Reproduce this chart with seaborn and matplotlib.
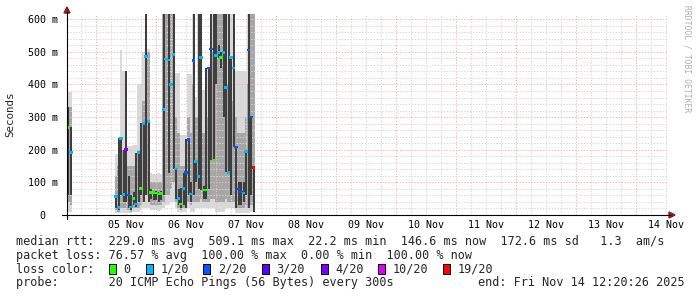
import numpy as np
import pandas as pd
import matplotlib
matplotlib.use("Agg")
import matplotlib.pyplot as plt
from matplotlib.patches import Rectangle, Polygon
from matplotlib.lines import Line2D
import seaborn as sns

sns.set_style("white")
plt.rcParams["font.family"] = ["DejaVu Sans Mono"]

# ---------------- data (hours relative to 05 Nov 00:00, values in ms) ----------------
first_hours = [-11.66, -10.66]
main_start_hour = 7.5
hours = np.concatenate([first_hours, main_start_hour + np.arange(56)])

median_ms = [268, 191,
             56, 22, 235, 63, 201, 61, 25, 51, 34, 191, 82, 281, 486, 286,
             68, 68, 67, 64, 66, 324, 478, 475, 399, 491, 141, 51, 34, 82,
             130, 232, 64, 473, 164, 118, 482, 77, 77, 450, 509, 169, 488, 498,
             482, 499, 391, 131, 482, 450, 208, 80, 70, 67, 194, 506, 300, 146]

loss = ["0", "1/20",
        "1/20", "1/20", "1/20", "1/20", "4/20", "2/20", "1/20", "0", "1/20", "1/20", "0", "1/20", "1/20", "1/20",
        "0", "0", "0", "0", "0", "1/20", "1/20", "1/20", "1/20", "1/20", "1/20", "1/20", "0", "1/20",
        "2/20", "2/20", "1/20", "2/20", "1/20", "1/20", "1/20", "0", "0", "2/20", "2/20", "0", "1/20", "1/20",
        "0", "1/20", "1/20", "1/20", "1/20", "1/20", "2/20", "2/20", "2/20", "1/20", "1/20", "2/20", "2/20", "19/20"]

smoke_lo = [10, 10,
            5, 5, 5, 5, 5, 5, 5, 10, 10, 10, 15, 20, 20, 20,
            15, 15, 15, 12, 15, 20, 30, 30, 40, 40, 20, 10, 5, 10,
            10, 20, 10, 10, 20, 20, 20, 20, 20, 20, 20, 20, 10, 10,
            10, 10, 20, 20, 20, 20, 5, 5, 5, 5, 5, 5, 10, 10]
smoke_mid_lo = [40, 30,
                15, 10, 20, 20, 20, 15, 10, 20, 20, 20, 30, 40, 60, 60,
                30, 30, 30, 30, 30, 40, 60, 60, 80, 100, 40, 20, 15, 20,
                20, 40, 30, 40, 40, 40, 50, 40, 40, 40, 50, 50, 40, 40,
                40, 40, 50, 40, 40, 40, 20, 20, 20, 20, 30, 20, 30, 30]
smoke_dark_lo = [60, 60,
                 20, 15, 60, 40, 40, 20, 15, 30, 25, 40, 60, 40, 60, 40,
                 50, 45, 45, 40, 45, 60, 478, 130, 399, 140, 50, 30, 20, 30,
                 20, 60, 40, 60, 100, 80, 77, 50, 50, 80, 169, 169, 400, 480,
                 450, 300, 131, 131, 60, 207, 20, 30, 30, 40, 60, 20, 60, 10]
smoke_dark_hi = [330, 270,
                 56, 235, 235, 200, 440, 120, 60, 70, 191, 191, 281, 281, 620, 286,
                 80, 75, 75, 70, 75, 620, 478, 620, 399, 620, 141, 80, 82, 130,
                 232, 232, 100, 620, 164, 620, 620, 90, 450, 450, 620, 620, 620, 520,
                 500, 620, 620, 620, 482, 620, 208, 100, 100, 100, 194, 620, 300, 146]
smoke_mid_hi = [330, 330,
                120, 150, 200, 200, 210, 150, 150, 150, 150, 200, 200, 350, 500, 500,
                100, 100, 100, 100, 100, 620, 620, 620, 620, 620, 300, 250, 150, 150,
                150, 300, 250, 400, 300, 300, 300, 250, 250, 300, 400, 500, 620, 620,
                620, 620, 500, 400, 400, 350, 300, 250, 250, 250, 300, 400, 620, 620]
smoke_hi = [378, 378,
            187, 187, 506, 440, 440, 210, 210, 213, 213, 400, 400, 500, 620, 510,
            128, 125, 125, 130, 125, 620, 620, 620, 620, 620, 434, 434, 245, 245,
            245, 432, 432, 620, 363, 620, 620, 383, 383, 450, 620, 620, 620, 620,
            620, 620, 620, 620, 620, 620, 440, 440, 440, 440, 440, 620, 620, 620]

day_labels = ["05 Nov", "06 Nov", "07 Nov", "08 Nov", "09 Nov",
              "10 Nov", "11 Nov", "12 Nov", "13 Nov", "14 Nov"]
y_ticks = [0, 100, 200, 300, 400, 500, 600]
y_tick_labels = ["0  ", "100 m", "200 m", "300 m", "400 m", "500 m", "600 m"]

loss_levels = ["0", "1/20", "2/20", "3/20", "4/20", "10/20", "19/20"]
loss_colors = ["#26ff00", "#00b8ff", "#0059ff", "#5e00ff", "#7e00ff", "#dd00ff", "#ff0000"]

legend_rtt = "median rtt:  229.0 ms avg  509.1 ms max  22.2 ms min  146.6 ms now  172.6 ms sd   1.3  am/s"
legend_loss = "packet loss: 76.57 % avg  100.00 % max  0.00 % min  100.00 % now"
legend_probe = "probe:       20 ICMP Echo Pings (56 Bytes) every 300s"
legend_end = "end: Fri Nov 14 12:20:26 2025"
watermark = "RRDTOOL / TOBI OETIKER"

# ---------------- figure ----------------
W, H = 697, 297
fig = plt.figure(figsize=(W / 100, H / 100), dpi=100)
fig.patch.set_facecolor("white")


def fx(x):
    return x / W


def fy(y):
    return 1 - y / H


ax = fig.add_axes([fx(67), fy(215), 601 / W, (215 - 14) / H])
ax.set_xlim(-11.66, 228.74)
ax.set_ylim(0, 616)
for s in ax.spines.values():
    s.set_visible(False)

df = pd.DataFrame({
    "hour": hours, "median": median_ms, "loss": loss,
    "lo": smoke_lo, "mlo": smoke_mid_lo, "dlo": smoke_dark_lo,
    "dhi": smoke_dark_hi, "mhi": smoke_mid_hi, "hi": smoke_hi,
})

# smoke layers
ax.bar(df["hour"], df["hi"] - df["lo"], bottom=df["lo"], width=1.0, align="edge",
       color="#d9d9d9", linewidth=0, zorder=1)
mtop = np.minimum(df["mhi"], df["hi"])
ax.bar(df["hour"], mtop - df["mlo"], bottom=df["mlo"], width=1.0, align="edge",
       color="#a6a6a6", linewidth=0, zorder=1.1)

# grid
grid_major = "#ecb8b8"
grid_minor = "#d8d8d8"
for h in range(-6, 229, 6):
    major = h % 24 == 0
    ax.axvline(h, color=grid_major if major else grid_minor, lw=0.7,
               linestyle=(0, (1.4, 1.6)), zorder=1.2)
for v in range(20, 601, 20):
    major = v % 100 == 0
    ax.axhline(v, color=grid_major if major else grid_minor, lw=0.7,
               linestyle=(0, (1.4, 1.6)), zorder=1.2)

ax.bar(df["hour"] + 0.15, df["dhi"] - df["dlo"], bottom=df["dlo"], width=0.7, align="edge",
       color="#3e3e3e", linewidth=0, zorder=1.4)

# median markers coloured by loss
rect = [(-4, -3), (4, -3), (4, 3), (-4, 3)]
sns.scatterplot(data=df, x=df["hour"] + 0.5, y="median", hue="loss",
                hue_order=loss_levels, palette=dict(zip(loss_levels, loss_colors)),
                marker=rect, s=6.5, linewidth=0, legend=False, ax=ax, zorder=5)
ax.set_xlabel("")
ax.set_ylabel("")

ax.set_xticks([12 + 24 * k for k in range(len(day_labels))])
ax.set_xticklabels(day_labels)
ax.set_yticks(y_ticks)
ax.set_yticklabels(y_tick_labels)
ax.tick_params(axis="both", length=0, labelsize=7.2, colors="black")
ax.tick_params(axis="x", pad=3.5)
ax.tick_params(axis="y", pad=6.5)

# axes lines and arrows
fig.add_artist(Line2D([fx(62), fx(670)], [fy(215), fy(215)], color="black", lw=0.8))
fig.add_artist(Line2D([fx(67), fx(67)], [fy(219), fy(12)], color="black", lw=0.8))
arrow_c = "#8b1a1a"
fig.add_artist(Polygon([(fx(669), fy(212)), (fx(675), fy(215)), (fx(669), fy(218))],
                       closed=True, color=arrow_c, transform=fig.transFigure))
fig.add_artist(Polygon([(fx(64), fy(13)), (fx(67), fy(7)), (fx(70), fy(13))],
                       closed=True, color=arrow_c, transform=fig.transFigure))

# labels and texts
fig.text(fx(10), fy(114), "Seconds", rotation=90, ha="center", va="center", fontsize=7.8)
fig.text(fx(687), fy(5), watermark, rotation=270, ha="center", va="top",
         fontsize=5.8, color="#b0b0b0")

fs = 8.5
fig.text(fx(16), fy(245), legend_rtt, ha="left", va="baseline", fontsize=fs)
fig.text(fx(16), fy(258.8), legend_loss, ha="left", va="baseline", fontsize=fs)
fig.text(fx(16), fy(272.6), "loss color:", ha="left", va="baseline", fontsize=fs)
fig.text(fx(16), fy(286.4), legend_probe, ha="left", va="baseline", fontsize=fs)
fig.text(fx(478), fy(286.4), legend_end, ha="left", va="baseline", fontsize=fs)

sq_x = [109, 146, 203, 262, 321, 378, 443]
lab_x = [123, 160.5, 218, 276.5, 335, 392.5, 457.5]
for lvl, col, sx, lx in zip(loss_levels, loss_colors, sq_x, lab_x):
    fig.add_artist(Rectangle((fx(sx), fy(274)), 7 / W, 10 / H, facecolor=col,
                             edgecolor="black", lw=0.7, transform=fig.transFigure))
    fig.text(fx(lx), fy(272.6), lvl, ha="left", va="baseline", fontsize=fs)

fig.savefig("out.png", dpi=100, facecolor="white")
